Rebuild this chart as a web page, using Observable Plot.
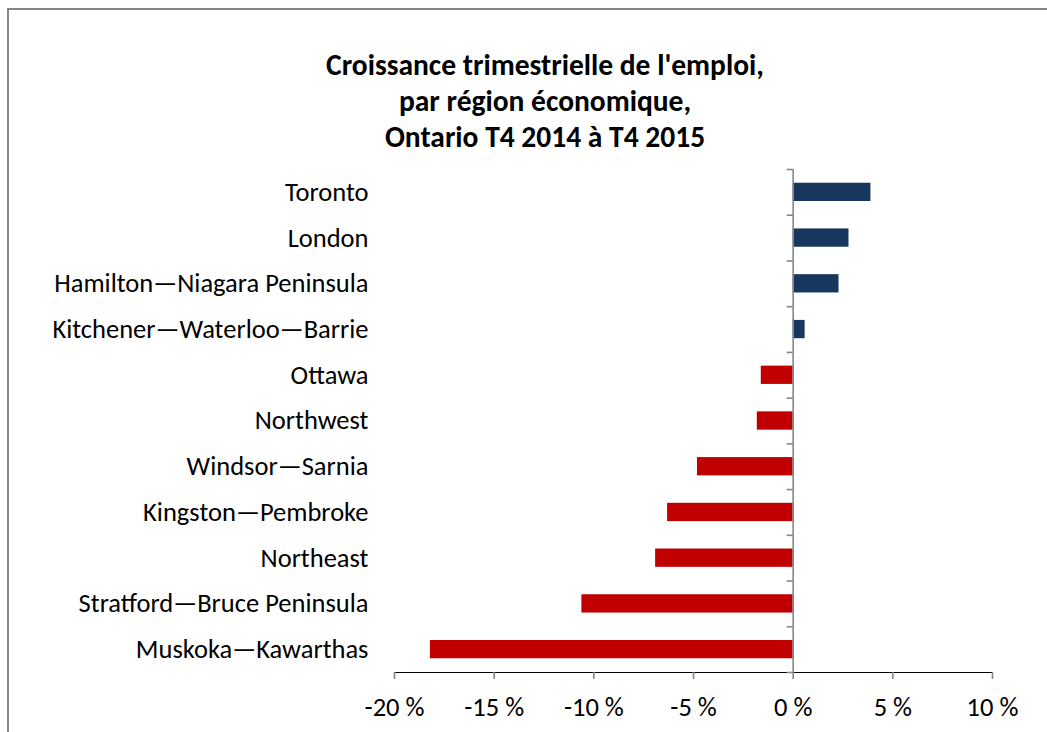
<!DOCTYPE html>
<html>
<head>
<meta charset="utf-8">
<script src="https://cdn.jsdelivr.net/npm/d3@7"></script>
<script src="https://cdn.jsdelivr.net/npm/@observablehq/plot@0.6"></script>
<style>
  html, body { margin: 0; padding: 0; background: #fff; }
  #wrap { position: relative; width: 1047px; height: 732px; overflow: hidden; font-family: Carlito, Calibri, Lato, sans-serif; }
  #border { position: absolute; left: 7px; top: 8px; width: 1100px; height: 800px; border-left: 2px solid #868686; border-top: 2px solid #868686; box-sizing: border-box; }
  #title { position: absolute; left: 45px; width: 1000px; top: 47px; text-align: center; font-weight: bold; font-size: 29.5px; line-height: 36px; color: #000; }
  #chart { position: absolute; left: 0; top: 0; }
  #chart svg [aria-label^="x-axis"] line,
  #chart svg [aria-label^="x-axis"] path,
  #chart svg [aria-label="x-axis tick"] path { stroke: #868686; stroke-width: 1.6; }
  #chart svg text { fill: #000; }
</style>
</head>
<body>
<div id="wrap">
  <div id="border"></div>
  <div id="title">Croissance trimestrielle de l'emploi,<br>par région économique,<br>Ontario T4 2014 à T4 2015</div>
  <div id="chart"></div>
</div>
<script>
const regions = [
  "Toronto",
  "London",
  "Hamilton—Niagara Peninsula",
  "Kitchener—Waterloo—Barrie",
  "Ottawa",
  "Northwest",
  "Windsor—Sarnia",
  "Kingston—Pembroke",
  "Northeast",
  "Stratford—Bruce Peninsula",
  "Muskoka—Kawarthas"
];
const growth = [3.9, 2.8, 2.3, 0.6, -1.6, -1.8, -4.8, -6.3, -6.9, -10.6, -18.2];
const xTicks = [-20, -15, -10, -5, 0, 5, 10];

const data = regions.map((r, i) => ({region: r, value: growth[i]}));

const W = 1047, H = 732;
const mTop = 169, mBottom = 60, mLeft = 394, mRight = 55;
const step = (H - mTop - mBottom) / regions.length;

const plot = Plot.plot({
  width: W,
  height: H,
  marginTop: mTop,
  marginBottom: mBottom,
  marginLeft: mLeft,
  marginRight: mRight,
  style: {fontSize: "26.5px", fontFamily: "Carlito, Calibri, Lato, sans-serif", background: "transparent", color: "#000"},
  x: {domain: [-20, 10], ticks: xTicks, tickFormat: d => `${d} %`, tickSize: 7, tickPadding: 18, label: null, line: true},
  y: {domain: regions, round: false, paddingInner: 0.6, paddingOuter: 0.3, tickSize: 0, tickPadding: 26, label: null},
  color: {domain: ["pos", "neg"], range: ["#17375E", "#C00000"]},
  marks: [
    Plot.barX(data, {x: "value", y: "region", fill: d => d.value >= 0 ? "pos" : "neg"}),
    Plot.ruleX([0], {stroke: "#868686", strokeWidth: 1.6}),
    Plot.ruleY(regions, {y: d => d, x1: -0.3, x2: 0, dy: -step / 2, stroke: "#868686", strokeWidth: 1.6}),
    Plot.ruleY(regions.slice(-1), {y: d => d, x1: -0.3, x2: 0, dy: step / 2, stroke: "#868686", strokeWidth: 1.6})
  ]
});
document.getElementById("chart").appendChild(plot);
</script>
</body>
</html>
